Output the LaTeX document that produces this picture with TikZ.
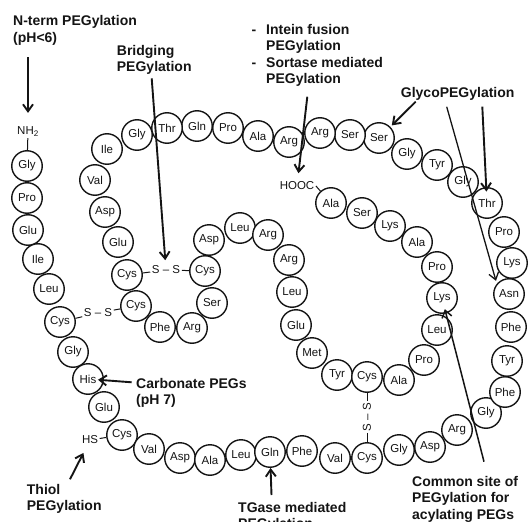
\documentclass[tikz,border=0pt]{standalone}
\usepackage{fontspec}
\setmainfont{Liberation Sans}
\usetikzlibrary{arrows.meta}
\definecolor{ink}{RGB}{20,20,20}
\tikzset{
  >={Straight Barb[length=7pt,width=10pt]},
  residue/.style={
    circle,
    draw=ink,
    fill=white,
    line width=1.4pt,
    minimum size=30.5pt,
    inner sep=0pt,
    text=ink,
    font=\fontsize{11.5}{12}\selectfont
  },
  bond/.style={inner sep=1.5pt,text=ink,font=\fontsize{11.5}{12}\selectfont},
  bondline/.style={draw=ink,line width=1pt},
  site/.style={
    anchor=north west,
    align=left,
    inner sep=0pt,
    text=ink,
    font=\fontsize{14}{16.5}\selectfont\bfseries
  },
  arrow/.style={->,draw=ink,line width=1.9pt},
  thinarrow/.style={arrow,line width=1.3pt}
}

\begin{document}
\begin{tikzpicture}[x=1pt,y=-1pt]

  \useasboundingbox (0,0) rectangle (528,522);

  % outer strand, N-terminus first
  \node[residue] (gly1) at (27,166) {Gly};
  \node[residue] (pro2) at (27,198) {Pro};
  \node[residue] (glu3) at (28,230) {Glu};
  \node[residue] (ile4) at (38,259) {Ile};
  \node[residue] (leu5) at (49,289) {Leu};
  \node[residue] (cys6) at (60,322) {Cys};
  \node[residue] (gly7) at (73,352) {Gly};
  \node[residue] (his8) at (88,379) {His};
  \node[residue] (glu9) at (104,407) {Glu};
  \node[residue] (cys10) at (122,435) {Cys};
  \node[residue] (val11) at (149,449) {Val};
  \node[residue] (asp12) at (180,458) {Asp};
  \node[residue] (ala13) at (210,460) {Ala};
  \node[residue] (leu14) at (241,455) {Leu};
  \node[residue] (gln15) at (270,452) {Gln};
  \node[residue] (phe16) at (302,451) {Phe};
  \node[residue] (val17) at (335,458) {Val};
  \node[residue] (cys18) at (367,458) {Cys};
  \node[residue] (gly19) at (399,450) {Gly};
  \node[residue] (asp20) at (430,447) {Asp};
  \node[residue] (arg21) at (457,430) {Arg};
  \node[residue] (gly22) at (486,413) {Gly};
  \node[residue] (phe23) at (505,392) {Phe};
  \node[residue] (tyr24) at (507,361) {Tyr};
  \node[residue] (phe25) at (511,327) {Phe};
  \node[residue] (asn26) at (509,294) {Asn};
  \node[residue] (lys27) at (512,263) {Lys};
  \node[residue] (pro28) at (504,232) {Pro};
  \node[residue] (thr29) at (487,203) {Thr};
  \node[residue] (gly30) at (463,182) {Gly};
  \node[residue] (tyr31) at (437,165) {Tyr};
  \node[residue] (gly32) at (407,154) {Gly};
  \node[residue] (ser33) at (379,138) {Ser};
  \node[residue] (ser34) at (350,135) {Ser};
  \node[residue] (arg35) at (320,133) {Arg};
  \node[residue] (arg36) at (289,142) {Arg};
  \node[residue] (ala37) at (258,136) {Ala};
  \node[residue] (pro38) at (228,128) {Pro};
  \node[residue] (gln39) at (197,126) {Gln};
  \node[residue] (thr40) at (167,128) {Thr};
  \node[residue] (gly41) at (137,135) {Gly};
  \node[residue] (ile42) at (107,149) {Ile};
  \node[residue] (val43) at (95,180) {Val};
  \node[residue] (asp44) at (105,212) {Asp};
  \node[residue] (glu45) at (118,242) {Glu};
  \node[residue] (cys46) at (127,275) {Cys};
  \node[residue] (cys47) at (136,306) {Cys};
  \node[residue] (phe48) at (160,327) {Phe};
  \node[residue] (arg49) at (192,328) {Arg};
  \node[residue] (ser50) at (212,303) {Ser};
  \node[residue] (cys51) at (205,271) {Cys};
  \node[residue] (asp52) at (209,240) {Asp};
  \node[residue] (leu53) at (240,228) {Leu};
  \node[residue] (arg54) at (268,235) {Arg};
  \node[residue] (arg55) at (289,260) {Arg};
  \node[residue] (leu56) at (292,292) {Leu};
  \node[residue] (glu57) at (296,325) {Glu};
  \node[residue] (met58) at (312,353) {Met};
  \node[residue] (tyr59) at (337,375) {Tyr};
  \node[residue] (cys60) at (367,377) {Cys};
  \node[residue] (ala61) at (399,380) {Ala};
  \node[residue] (pro62) at (424,360) {Pro};
  \node[residue] (leu63) at (437,330) {Leu};
  \node[residue] (lys64) at (442,298) {Lys};
  \node[residue] (pro65) at (437,267) {Pro};
  \node[residue] (ala66) at (417,242) {Ala};
  \node[residue] (lys67) at (390,226) {Lys};
  \node[residue] (ser68) at (362,213) {Ser};
  \node[residue] (ala69) at (331,203) {Ala};

  % termini and disulfide bridges
  \node[bond] (nh2) at (28,131.5) {NH\textsubscript{2}};
  \node[bond] (hooc) at (297,186) {HOOC};
  \node[bond] (hs) at (90,440) {HS};
  \node[bond] (ssA) at (98,313) {S -- S};
  \node[bond] (ssB) at (166,270) {S -- S};
  \node[bond,rotate=90] (ssC) at (367,417) {S -- S};

  \draw[bondline] (nh2) -- (gly1);
  \draw[bondline] (hooc.east) -- (ala69);
  \draw[bondline] (hs) -- (cys10);
  \draw[bondline] (cys6) -- (ssA) -- (cys47);
  \draw[bondline] (cys46) -- (ssB) -- (cys51);
  \draw[bondline] (cys60) -- (ssC) -- (cys18);

  % PEGylation sites
  \node[site] (nterm) at (13,15.3) {N-term PEGylation\\(pH<6)};
  \node[site] (bridging) at (116.7,44.8) {Bridging\\PEGylation};
  \node[site] (intein) at (266,24.1) {\llap{-\hspace{10pt}}Intein fusion\\PEGylation\\\llap{-\hspace{10pt}}Sortase mediated\\PEGylation};
  \node[site] (glyco) at (400.7,87.1) {GlycoPEGylation};
  \node[site] (carbonate) at (136,378.1) {Carbonate PEGs\\(pH 7)};
  \node[site] (thiol) at (26.7,483.8) {Thiol\\PEGylation};
  \node[site] (tgase) at (238,501.8) {TGase mediated\\PEGylation};
  \node[site] (common) at (412,475.8) {Common site of\\PEGylation for\\acylating PEGs};

  \coordinate (ntermtail) at (28,57);
  \coordinate (bridgetail) at (151.7,78.3);
  \coordinate (inteintail) at (307.3,96.7);
  \coordinate (glycotailA) at (415.7,101.7);
  \coordinate (glycotailB) at (446.7,106.7);
  \coordinate (glycotailC) at (482.3,106.7);
  \coordinate (carbtail) at (131.7,382.3);
  \coordinate (thioltail) at (70,479.3);
  \coordinate (tgasetail) at (271.5,495);
  \coordinate (commontail) at (484,461.7);

  \draw[arrow,shorten >=12pt] (ntermtail) -- (nh2);
  \draw[arrow,shorten >=4pt] (bridgetail) -- (ssB);
  \draw[arrow,shorten >=7pt] (inteintail) -- (hooc);
  \draw[arrow,shorten >=2pt] (glycotailA) -- (ser33);
  \draw[thinarrow,shorten >=3pt] (glycotailB) -- (asn26.140);
  \draw[arrow,shorten >=11.5pt] (glycotailC) -- (thr29.center);
  \draw[arrow,shorten >=10pt] (carbtail) -- (his8.center);
  \draw[arrow,shorten >=8pt] (thioltail) -- (hs);
  \draw[arrow] (tgasetail) -- (gln15);
  \draw[arrow,line width=1.5pt,shorten >=11.5pt] (commontail) -- (lys64.center);

\end{tikzpicture}
\end{document}
